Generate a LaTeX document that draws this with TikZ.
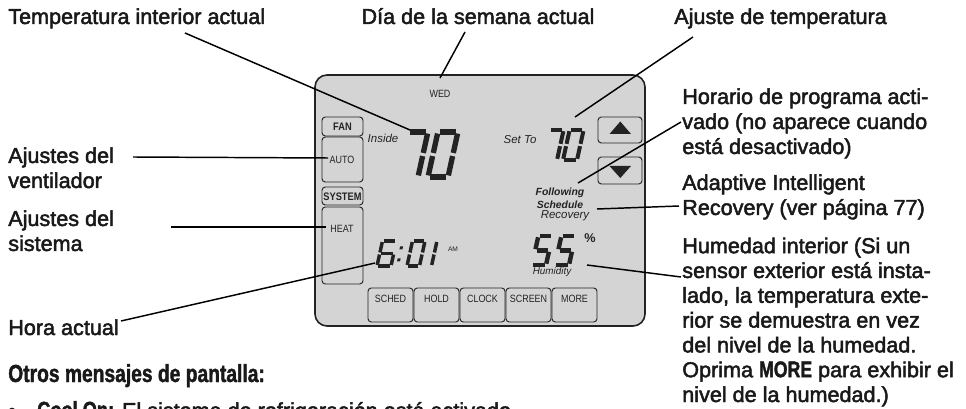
\documentclass[tikz,border=0pt]{standalone}
\usepackage{fontspec}
\setmainfont{Liberation Sans}
\newfontfamily\lab{Liberation Sans}[FakeBold=2.2]
\newfontfamily\lcd{Liberation Sans}[FakeStretch=0.85]
\newfontfamily\cnd{Liberation Sans Bold}[FakeStretch=0.78,FakeBold=1.5]
\definecolor{panel}{RGB}{212,212,212}
\definecolor{ink}{RGB}{35,35,35}
\def\dSeven{p4/p5,p5/p3,p3/p1}
\def\dZero{p4/p5,p5/p3,p3/p1,p0/p1,p2/p0,p4/p2}
\def\dSix{p4/p5,p4/p2,p2/p0,p0/p1,p3/p1,p2/p3}
\def\dOne{p5/p3,p3/p1}
\def\dFive{p4/p5,p4/p2,p2/p3,p3/p1,p0/p1}
\newcommand\lcddigit[6]{%
  \begin{scope}[shift={(#1,#2)},xslant=0.22,xscale=#3,yscale=-#4/2]
    \coordinate (p0) at (0,0); \coordinate (p1) at (1,0);
    \coordinate (p2) at (0,1); \coordinate (p3) at (1,1);
    \coordinate (p4) at (0,2); \coordinate (p5) at (1,2);
  \end{scope}
  \foreach \a/\b in #6 {\draw[line width=#5, draw=ink, shorten <=0.3*#5, shorten >=0.3*#5] (\a) -- (\b);}%
}
\begin{document}
\begin{tikzpicture}[x=0.75pt,y=-0.75pt,
  lbl/.style={font=\lab\fontsize{16.2}{19}\selectfont, inner sep=0, anchor=base west, text=black!90},
  conn/.style={draw=black, line width=1.1pt},
  btn/.style={draw=ink, line width=0.7pt, rounded corners=2.5pt},
  lcdt/.style={font=\lcd\fontsize{7.9}{9}\selectfont, text=ink, inner sep=0},
  lcdb/.style={font=\lcd\bfseries\fontsize{8.2}{9}\selectfont, text=ink, inner sep=0},
  lcdi/.style={font=\itshape\fontsize{8.6}{10}\selectfont, text=ink, inner sep=0},
]
\useasboundingbox (0,0) rectangle (966,409);
\fill[white] (0,0) rectangle (966,409);
\clip (0,0) rectangle (966,409);

% panel
\draw[line width=1.2pt, draw=ink, fill=panel, rounded corners=9pt] (315,75) rectangle (645,326);

% left buttons
\draw[btn] (322,117) rectangle (363,136);
\draw[btn] (322,137) rectangle (363,182);
\draw[btn] (322,187) rectangle (363,205);
\draw[btn] (322,207) rectangle (363,284);
\node[lcdb] (fan) at (342.5,127) {FAN};
\node[lcdt] (auto) at (342,160) {AUTO};
\node[lcdb] (system) at (342.5,196.5) {SYSTEM};
\node[lcdt] (heat) at (342,229) {HEAT};

% arrow buttons
\draw[btn] (598,117) rectangle (642,143);
\draw[btn] (598,157) rectangle (642,184);
\fill[ink] (609.5,134) -- (631,134) -- (620.3,121.5) -- cycle;
\fill[ink] (609.5,166) -- (631,166) -- (620.3,178) -- cycle;

% bottom buttons
\foreach \t [count=\i from 0] in {SCHED,HOLD,CLOCK,SCREEN,MORE}{
  \draw[btn] ({368+46*\i},288) rectangle ({413+46*\i},322);
  \node[lcdt] (b\i) at ({390.5+46*\i},299) {\t};
}

% small texts
\node[lcdt] (wed) at (440,94) {WED};
\node[lcdi] (inside) at (383,138) {Inside};
\node[lcdi] (setto) at (520,140) {Set To};
\node[font=\bfseries\itshape\fontsize{7.8}{9}\selectfont, text=ink, inner sep=0] (follow) at (560,193) {Following};
\node[font=\bfseries\itshape\fontsize{7.8}{9}\selectfont, text=ink, inner sep=0] (sched) at (560,205) {Schedule};
\node[font=\itshape\fontsize{8.6}{10}\selectfont, text=ink, inner sep=0] (recov) at (565,216) {Recovery};
\node[font=\itshape\fontsize{7.4}{9}\selectfont, text=ink, inner sep=0] (humid) at (552,272) {Humidity};
\node[font=\fontsize{5}{6}\selectfont, text=ink, inner sep=0] (am) at (453,249) {AM};
\node[font=\bfseries\fontsize{9.5}{11}\selectfont, text=ink, inner sep=0] (pct) at (590,238) {\%};

% LCD digits
\lcddigit{398}{177}{20}{45}{4pt}{\dSeven}
\lcddigit{428}{177}{20}{45}{4pt}{\dZero}
\lcddigit{543}{160}{14}{30}{3pt}{\dSeven}
\lcddigit{563}{160}{14}{30}{3pt}{\dZero}
\lcddigit{377}{266}{14}{25}{2.6pt}{\dSix}
\lcddigit{407}{266}{12.5}{25}{2.6pt}{\dZero}
\lcddigit{419.5}{266}{12}{25}{2.6pt}{\dOne}
\lcddigit{532}{265}{14}{29}{3.3pt}{\dFive}
\lcddigit{555}{265}{14}{29}{3.3pt}{\dFive}
\fill[ink] (400,246.5) -- (403,246.5) -- (402.4,249.5) -- (399.4,249.5) -- cycle;
\fill[ink] (397.6,258.5) -- (400.6,258.5) -- (400,261.5) -- (397,261.5) -- cycle;

% labels
\node[lbl] (tTemp) at (8,24) {Temperatura interior actual};
\node[lbl, anchor=base] (tDay) at (478,24) {Día de la semana actual};
\node[lbl] (tSet) at (674,24) {Ajuste de temperatura};
\node[lbl] (fan1) at (8,163) {Ajustes del};
\node[lbl] (fan2) at (8,188) {ventilador};
\node[lbl] (sys1) at (8,226) {Ajustes del};
\node[lbl] (sys2) at (8,251) {sistema};
\node[lbl] (hora) at (8,335) {Hora actual};
\node[lbl, font=\cnd\fontsize{18.5}{20}\selectfont] (otros) at (8,382) {Otros mensajes de pantalla:};
\node[lbl] (bul) at (8,418) {•};
\node[lbl] (cool) at (37,418) {{\cnd\fontsize{17.5}{19}\selectfont Cool On:} El sistema de refrigeración está activado.};
\node[lbl] (r1) at (682,104) {Horario de programa acti-};
\node[lbl] (r2) at (682,129) {vado (no aparece cuando};
\node[lbl] (r3) at (682,154) {está desactivado)};
\node[lbl] (r4) at (682,190) {Adaptive Intelligent};
\node[lbl] (r5) at (682,215) {Recovery (ver página 77)};
\node[lbl] (r6) at (682,253.2) {Humedad interior (Si un};
\node[lbl] (r7) at (682,278) {sensor exterior está insta-};
\node[lbl] (r8) at (682,302.8) {lado, la temperatura exte-};
\node[lbl] (r9) at (682,327.6) {rior se demuestra en vez};
\node[lbl] (r10) at (682,352.4) {del nivel de la humedad.};
\node[lbl] (r11) at (682,377.2) {Oprima {\cnd\fontsize{17}{19}\selectfont MORE} para exhibir el};
\node[lbl] (r12) at (682,402) {nivel de la humedad.)};

% connector ends
\coordinate (aTemp) at (185,33);   \coordinate (eTemp) at (410,130);
\coordinate (aDay) at (465,32);    \coordinate (eDay) at (440,78);
\coordinate (aSet) at (693,37);    \coordinate (eSet) at (575,117);
\coordinate (aFan) at (133,157);   \coordinate (eFan) at (328,158);
\coordinate (aSys) at (171,227);   \coordinate (eSys) at (326,227);
\coordinate (aHora) at (121,321);  \coordinate (eHora) at (375,263);
\coordinate (aHor) at (681,122);   \coordinate (eHor) at (578,183);
\coordinate (aRec) at (679,206);   \coordinate (eRec) at (597,209);
\coordinate (aHum) at (681,277);   \coordinate (eHum) at (587,265);
\foreach \n in {Temp,Day,Set,Fan,Sys,Hora,Hor,Rec,Hum}
  \draw[conn] (a\n) -- (e\n);
\end{tikzpicture}
\end{document}
